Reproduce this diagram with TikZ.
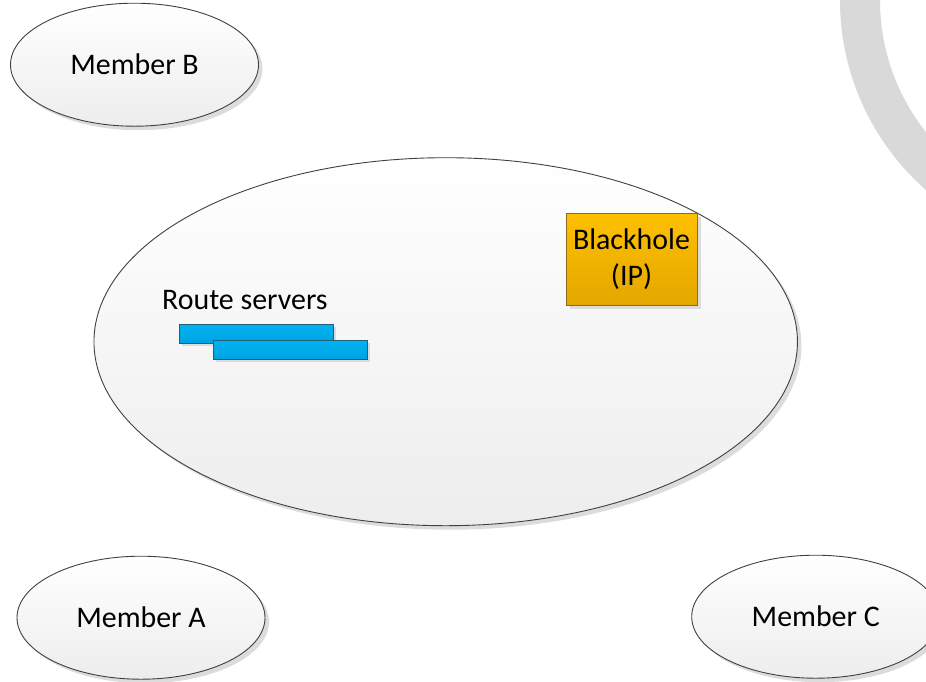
\documentclass[tikz,border=0pt]{standalone}
\usepackage{fontspec}
\setmainfont{Carlito}
\usetikzlibrary{shapes.geometric,shadows}
\definecolor{arcgray}{HTML}{D9D9D9}
\definecolor{edgegray}{HTML}{404040}
\definecolor{fillgray}{HTML}{EDEDED}
\definecolor{shadowgray}{HTML}{DCDCDC}
\definecolor{goldtop}{HTML}{FFC000}
\definecolor{goldbot}{HTML}{E3A700}
\definecolor{goldedge}{HTML}{8C6D1F}
\definecolor{bluetop}{HTML}{00B4F2}
\definecolor{bluebot}{HTML}{00A3E0}
\definecolor{blueedge}{HTML}{1F5F7A}
\newcommand\lblfont{\fontsize{29.9}{36}\selectfont}
\begin{document}
\begin{tikzpicture}[x=1pt,y=-1pt,
  shade/.style={drop shadow={shadow xshift=4pt,shadow yshift=-4pt,fill=shadowgray,opacity=1}},
  member/.style={ellipse,draw=edgegray,line width=0.9pt,top color=white,bottom color=fillgray,
    minimum width=248pt,minimum height=123pt,inner sep=0pt,font=\lblfont,shade},
  bhbox/.style={rectangle,draw=goldedge,line width=1pt,top color=goldtop,bottom color=goldbot,
    minimum width=131pt,minimum height=92pt,inner sep=0pt,align=center,font=\lblfont,shade},
  rsbar/.style={rectangle,draw=blueedge,line width=0.9pt,top color=bluetop,bottom color=bluebot,
    minimum width=154pt,minimum height=19pt,inner sep=0pt,
    drop shadow={shadow xshift=3pt,shadow yshift=-3pt,fill=shadowgray,opacity=1}},
  lbl/.style={inner sep=0pt,font=\lblfont}]
\useasboundingbox (0,0) rectangle (926,681);
\clip (0,0) rectangle (926,681);
% decorative grey ring
\fill[arcgray,even odd rule] (1093,0) circle (253pt) (1093,0) circle (213pt);
% members
\node[member] (memB) at (134.5,64.7) {Member B};
\node[member] (memA) at (141,617.7) {Member A};
\node[member] (memC) at (815.7,616.7) {Member C};
% exchange
\node[member,minimum width=703.5pt,minimum height=368pt] (ixp) at (445.7,341.7) {};
\node[lbl,anchor=base west] (rs) at (162,309) {Route servers};
\node[rsbar] (bar1) at (256,333.5) {};
\node[rsbar] (bar2) at (290,349.5) {};
\node[bhbox] (bh) at (631.5,259) {Blackhole\\(IP)};
\end{tikzpicture}
\end{document}
